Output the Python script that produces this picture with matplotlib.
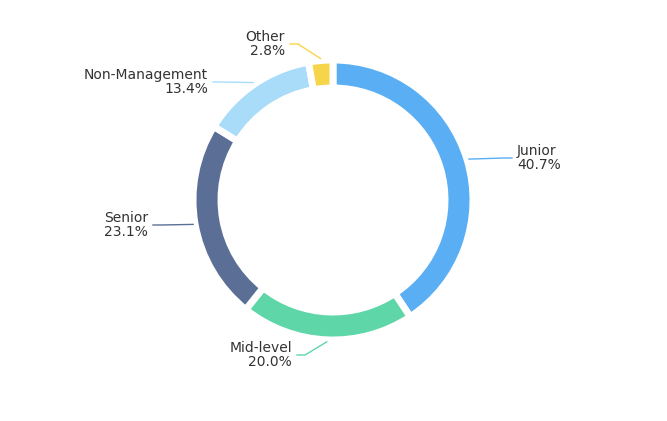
import matplotlib
matplotlib.use("Agg")
import matplotlib.pyplot as plt
import numpy as np

labels = ["Junior", "Mid-level", "Senior", "Non-Management", "Other"]
shares = [40.7, 20.0, 23.1, 13.4, 2.8]
colors = ["#5AAEF3", "#5ED6A8", "#5A6E96", "#A8DCF8", "#F7D54A"]
# label anchor (x, y) in pixels, text alignment
label_pos = [(517, 158, "left"), (292, 355, "right"), (148, 225, "right"),
             (208, 82, "right"), (285, 44, "right")]

W, H = 667, 421
fig = plt.figure(figsize=(W / 100, H / 100), dpi=100)
ax = fig.add_axes([0, 0, 1, 1])

cx, cy = 333, H - 200
R, width = 140, 28
wedges, _ = ax.pie(shares, colors=colors, startangle=90, counterclock=False,
                   center=(cx, cy), radius=R,
                   wedgeprops=dict(width=width, edgecolor="white", linewidth=5,
                                   joinstyle="round"))

total = sum(shares)
start = 90
for lab, val, col, (lx, ly, ha) in zip(labels, shares, colors, label_pos):
    mid = np.deg2rad(start - val / total * 360 / 2)
    start -= val / total * 360
    px, py = cx + (R + 2) * np.cos(mid), cy + (R + 2) * np.sin(mid)
    ly_d = H - ly
    ex = lx - 5 if ha == "left" else lx + 5
    ax.plot([px, ex - (8 if ha == "left" else -8), ex], [py, ly_d, ly_d], color=col, lw=1)
    ax.text(lx, ly_d, f"{lab}\n{val:.1f}%", ha=ha, va="center", fontsize=10,
            color="#333333", linespacing=0.95)

ax.set_xlim(0, W)
ax.set_ylim(0, H)
ax.set_aspect("equal")
ax.axis("off")

fig.savefig("out.png", dpi=100)
